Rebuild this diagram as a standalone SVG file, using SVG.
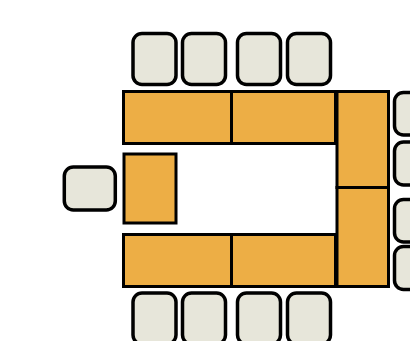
<svg xmlns="http://www.w3.org/2000/svg" width="410" height="341" viewBox="0 0 410 341">
<style>
.t{fill:#edae45;stroke:#000;stroke-width:3}
.c{fill:#e7e6da;stroke:#000;stroke-width:3.500}
</style>
<rect width="410" height="341" fill="#fff"/>
<g id="chair-top-1"><rect class="c" x="133" y="33.500" width="43" height="51" rx="9"/></g>
<g id="chair-top-2"><rect class="c" x="182.500" y="33.500" width="43" height="51" rx="9"/></g>
<g id="chair-top-3"><rect class="c" x="237.500" y="33.500" width="43" height="51" rx="9"/></g>
<g id="chair-top-4"><rect class="c" x="287.500" y="33.500" width="43" height="51" rx="9"/></g>
<g id="chair-left"><rect class="c" x="64.300" y="167" width="51" height="43" rx="9"/></g>
<g id="chair-right-1"><rect class="c" x="394.500" y="92.500" width="51" height="42.500" rx="9"/></g>
<g id="chair-right-2"><rect class="c" x="394.500" y="142" width="51" height="43" rx="9"/></g>
<g id="chair-right-3"><rect class="c" x="394.500" y="199.500" width="51" height="42.500" rx="9"/></g>
<g id="chair-right-4"><rect class="c" x="394.500" y="246.500" width="51" height="43" rx="9"/></g>
<g id="chair-bottom-1"><rect class="c" x="133" y="293" width="43" height="51" rx="9"/></g>
<g id="chair-bottom-2"><rect class="c" x="182.500" y="293" width="43" height="51" rx="9"/></g>
<g id="chair-bottom-3"><rect class="c" x="237.500" y="293" width="43" height="51" rx="9"/></g>
<g id="chair-bottom-4"><rect class="c" x="287.500" y="293" width="43" height="51" rx="9"/></g>
<g id="table-top-1"><rect class="t" x="123.500" y="91.500" width="108" height="52"/></g>
<g id="table-top-2"><rect class="t" x="231.500" y="91.500" width="104" height="52"/></g>
<g id="table-bottom-1"><rect class="t" x="123.500" y="234.500" width="108" height="52"/></g>
<g id="table-bottom-2"><rect class="t" x="231.500" y="234.500" width="104" height="52"/></g>
<g id="table-right-1"><rect class="t" x="337" y="91.500" width="51.500" height="96"/></g>
<g id="table-right-2"><rect class="t" x="337" y="187.500" width="51.500" height="99"/></g>
<g id="table-left"><rect class="t" x="124" y="154" width="52" height="69"/></g>
<g id="connectors"/>
</svg>
